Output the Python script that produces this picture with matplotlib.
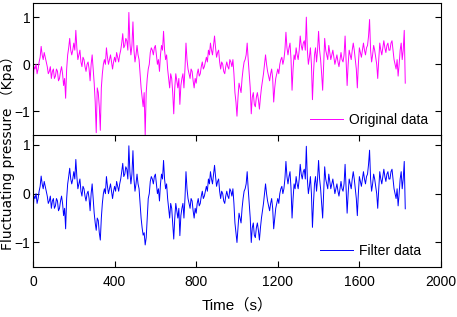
import numpy as np
import matplotlib
matplotlib.use("Agg")
import matplotlib.pyplot as plt

time_s = np.arange(0, 1830, 5)

original = [
    -0.45, -0.05, -0.1, 0.0, -0.2, -0.1, 0.05, 0.15, 0.38, 0.2,
    0.1, 0.25, 0.15, 0.05, -0.05, -0.2, -0.15, -0.05, -0.3, -0.15,
    -0.1, -0.3, -0.25, -0.1, -0.15, -0.35, -0.3, -0.15, -0.05, -0.2,
    -0.45, -0.3, -0.72, -0.1, 0.2, 0.35, 0.55, 0.3, 0.2, 0.3,
    0.45, 0.3, 0.72, 0.35, 0.1, 0.2, 0.3, 0.05, -0.05, 0.15,
    0.1, -0.05, -0.15, 0.0, 0.05, -0.1, -0.35, 0.0, 0.2, -0.1,
    -0.4, -0.8, -1.45, -0.5, -0.6, -0.9, -1.4, -0.5, -0.2, 0.0,
    0.1, 0.0, 0.35, 0.15, 0.0, 0.1, 0.2, 0.05, -0.1, 0.05,
    0.15, 0.05, 0.25, 0.15, 0.05, 0.2, 0.3, 0.45, 0.65, 0.35,
    0.4, 0.55, 0.5, 0.3, 1.1, 0.45, 0.2, 0.4, 0.9, 0.3,
    0.05, 0.2, 0.4, 0.2, 0.1, -0.2, -0.5, -0.7, -0.9, -0.6,
    -1.5, -0.6, -0.3, -0.1, 0.0, 0.25, 0.35, 0.3, 0.2, 0.35,
    0.4, 0.2, 0.0, 0.1, -0.15, 0.2, 0.4, 0.3, 0.7, 0.3,
    0.1, 0.2, -0.1, -0.3, -0.5, -0.2, -0.3, -0.6, -1.05, -0.5,
    -0.2, -0.35, -0.5, -0.3, -0.85, -0.45, -0.3, -0.2, -0.5, -0.1,
    0.45, 0.1, -0.1, -0.2, -0.3, -0.1, -0.15, -0.35, -0.5, -0.3,
    -0.4, -0.2, -0.1, -0.25, -0.2, -0.05, 0.05, -0.1, -0.05, 0.05,
    0.15, 0.05, 0.3, 0.2, 0.45, 0.3, 0.2, 0.4, 0.6, 0.35,
    0.15, 0.25, 0.3, 0.05, -0.1, 0.05, 0.0, -0.15, -0.2, -0.05,
    0.05, -0.05, -0.1, 0.1, 0.05, -0.05, 0.1, -0.2, -0.6, -0.8,
    -1.1, -0.7, -0.4, -0.5, -0.6, -0.3, -0.1, 0.05, 0.1, 0.2,
    0.45, 0.1, -0.2, -0.5, -1.05, -0.7, -0.6, -0.85, -0.9, -0.7,
    -0.6, -0.75, -0.95, -0.7, -0.5, -0.35, -0.2, 0.0, 0.2, 0.0,
    -0.15, -0.25, -0.35, -0.2, -0.1, -0.3, -0.8, -0.5, -0.3, -0.2,
    -0.1, -0.2, 0.0, 0.1, 0.15, 0.0, 0.1, 0.3, 0.68, 0.35,
    0.2, 0.35, 0.45, 0.1, -0.55, -0.1, 0.2, 0.1, 0.35, 0.2,
    0.1, 0.3, 0.6, 0.4, 0.3, 0.45, 0.5, 0.3, 1.0, 0.3,
    0.0, 0.15, 0.35, 0.0, -0.75, -0.2, 0.2, 0.35, 0.05, 0.3,
    0.7, 0.3, 0.1, -0.2, -0.55, 0.0, 0.55, 0.3, 0.2, 0.1,
    0.4, 0.25, 0.1, 0.2, 0.3, 0.15, 0.0, 0.1, 0.2, 0.05,
    -0.05, 0.1, 0.25, 0.1, 0.05, 0.2, 0.6, 0.1, -0.45, 0.0,
    0.3, 0.2, 0.1, 0.3, 0.45, 0.3, 0.1, -0.1, -0.5, 0.0,
    0.35, 0.25, 0.15, 0.3, 0.45, 0.3, 0.2, 0.35, 0.4, 0.6,
    0.95, 0.3, 0.05, 0.2, 0.4, 0.3, 0.15, 0.0, -0.3, 0.1,
    0.45, 0.3, 0.2, 0.35, 0.5, 0.35, 0.25, 0.4, 0.45, 0.3,
    0.3, 0.45, 0.5, 0.3, 0.1, 0.0, -0.1, 0.1, -0.25, 0.0,
    0.3, 0.45, 0.1, 0.3, 0.72, -0.4,
]

filtered = [
    -0.4, -0.05, -0.1, 0.0, -0.2, -0.1, 0.05, 0.15, 0.36, 0.2,
    0.1, 0.25, 0.15, 0.05, -0.05, -0.2, -0.15, -0.05, -0.3, -0.15,
    -0.1, -0.3, -0.25, -0.1, -0.15, -0.35, -0.3, -0.15, -0.05, -0.2,
    -0.45, -0.3, -0.72, -0.1, 0.2, 0.35, 0.52, 0.3, 0.2, 0.3,
    0.45, 0.3, 0.7, 0.35, 0.1, 0.2, 0.3, 0.05, -0.05, 0.15,
    0.1, -0.05, -0.15, 0.0, 0.05, -0.1, -0.35, 0.0, 0.2, -0.1,
    -0.4, -0.6, -0.75, -0.5, -0.55, -0.8, -0.95, -0.5, -0.2, 0.0,
    0.1, 0.0, 0.35, 0.15, 0.0, 0.1, 0.2, 0.05, -0.1, 0.05,
    0.15, 0.05, 0.25, 0.15, 0.05, 0.2, 0.3, 0.45, 0.62, 0.35,
    0.4, 0.55, 0.5, 0.3, 0.98, 0.45, 0.2, 0.4, 0.88, 0.3,
    0.05, 0.2, 0.4, 0.2, 0.1, -0.2, -0.5, -0.7, -0.85, -0.8,
    -1.05, -0.9, -0.5, -0.1, 0.0, 0.25, 0.35, 0.3, 0.2, 0.35,
    0.4, 0.2, 0.0, 0.1, -0.15, 0.2, 0.4, 0.3, 0.68, 0.3,
    0.1, 0.2, -0.1, -0.3, -0.5, -0.2, -0.3, -0.6, -0.93, -0.5,
    -0.2, -0.35, -0.5, -0.3, -0.86, -0.45, -0.3, -0.2, -0.5, -0.1,
    0.45, 0.1, -0.1, -0.2, -0.3, -0.1, -0.15, -0.35, -0.5, -0.3,
    -0.4, -0.2, -0.1, -0.25, -0.2, -0.05, 0.05, -0.1, -0.05, 0.05,
    0.15, 0.05, 0.3, 0.2, 0.45, 0.3, 0.2, 0.4, 0.58, 0.35,
    0.15, 0.25, 0.3, 0.05, -0.1, 0.05, 0.0, -0.15, -0.2, -0.05,
    0.05, -0.05, -0.1, 0.1, 0.05, -0.05, 0.1, -0.2, -0.6, -0.8,
    -1.0, -0.7, -0.4, -0.5, -0.6, -0.3, -0.1, 0.05, 0.1, 0.2,
    0.45, 0.1, -0.2, -0.5, -1.0, -0.7, -0.6, -0.85, -0.9, -0.7,
    -0.6, -0.75, -0.95, -0.7, -0.5, -0.35, -0.2, 0.0, 0.2, 0.0,
    -0.15, -0.25, -0.35, -0.2, -0.1, -0.3, -0.72, -0.5, -0.3, -0.2,
    -0.1, -0.2, 0.0, 0.1, 0.15, 0.0, 0.1, 0.3, 0.66, 0.35,
    0.2, 0.35, 0.45, 0.1, -0.5, -0.1, 0.2, 0.1, 0.35, 0.2,
    0.1, 0.3, 0.6, 0.4, 0.3, 0.45, 0.5, 0.3, 0.97, 0.3,
    0.0, 0.15, 0.35, 0.0, -0.69, -0.2, 0.2, 0.35, 0.05, 0.3,
    0.68, 0.3, 0.1, -0.2, -0.5, 0.0, 0.55, 0.3, 0.2, 0.1,
    0.4, 0.25, 0.1, 0.2, 0.3, 0.15, 0.0, 0.1, 0.2, 0.05,
    -0.05, 0.1, 0.25, 0.1, 0.05, 0.2, 0.6, 0.1, -0.4, 0.0,
    0.3, 0.2, 0.1, 0.3, 0.45, 0.3, 0.1, -0.1, -0.45, 0.0,
    0.35, 0.25, 0.15, 0.3, 0.45, 0.3, 0.2, 0.35, 0.4, 0.6,
    0.89, 0.3, 0.05, 0.2, 0.4, 0.3, 0.15, 0.0, -0.3, 0.1,
    0.45, 0.3, 0.2, 0.35, 0.5, 0.35, 0.25, 0.4, 0.45, 0.3,
    0.3, 0.45, 0.5, 0.3, 0.1, 0.0, -0.1, 0.1, -0.25, 0.0,
    0.3, 0.45, 0.1, 0.3, 0.66, -0.31,
]

x_ticks = [0, 400, 800, 1200, 1600, 2000]
y_ticks = [-1, 0, 1]

plt.rcParams["font.family"] = ["Liberation Sans", "Noto Sans CJK SC", "DejaVu Sans"]

fig = plt.figure(figsize=(4.57, 3.17), dpi=100)
ax1 = fig.add_axes([0.0722, 0.574, 0.8927, 0.4165])
ax2 = fig.add_axes([0.0722, 0.158, 0.8927, 0.416])

ax1.plot(time_s, original, color="#ff00ff", lw=0.7, label="Original data")
ax2.plot(time_s, filtered, color="#0000ff", lw=0.7, label="Filter data")

ax1.set_ylim(-1.5, 1.3)
ax2.set_ylim(-1.5, 1.2)

for ax in (ax1, ax2):
    ax.set_xlim(0, 2000)
    ax.set_xticks(x_ticks)
    ax.set_yticks(y_ticks)
    ax.tick_params(direction="in", length=4, width=0.8, labelsize=10,
                   right=True, top=True, pad=2)
    for s in ax.spines.values():
        s.set_linewidth(0.8)

ax1.legend(loc="lower right", bbox_to_anchor=(0.968, 0.06), frameon=False,
           fontsize=10, handlelength=2.4, handletextpad=0.4,
           borderpad=0, borderaxespad=0)
ax2.legend(loc="lower right", bbox_to_anchor=(0.951, 0.065), frameon=False,
           fontsize=10, handlelength=2.4, handletextpad=0.4,
           borderpad=0, borderaxespad=0)

ax1.tick_params(bottom=False, top=False, labelbottom=False)
ax1.spines["bottom"].set_visible(False)
ax2.tick_params(axis="x", pad=6)

ax2.set_xlabel("Time（s）", fontsize=11, labelpad=6)
fig.text(0.0165, 0.527, "Fluctuating pressure （Kpa）", rotation=90,
         ha="center", va="center", fontsize=10,
         family=["DejaVu Sans", "Noto Sans CJK SC"])

fig.savefig("out.png", dpi=100)
